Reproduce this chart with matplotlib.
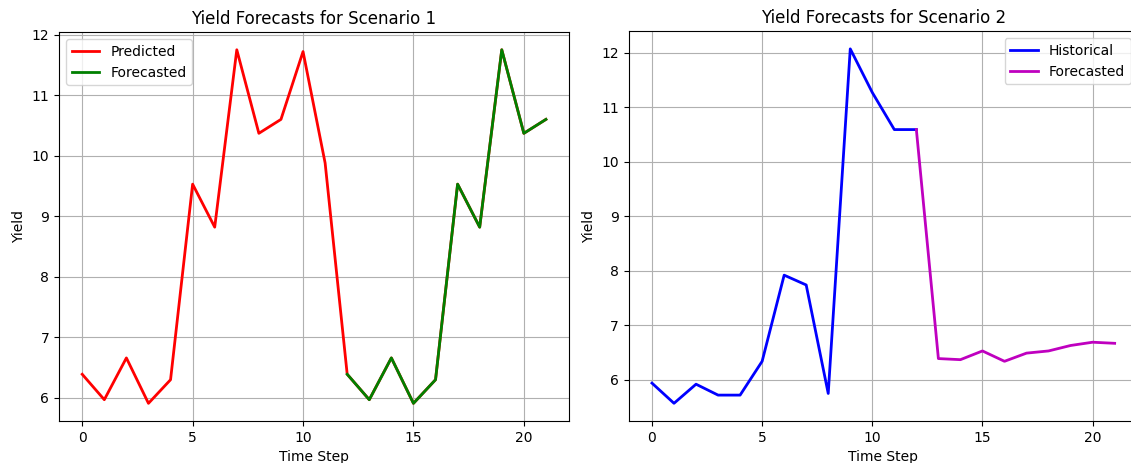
import matplotlib
matplotlib.use('Agg')
import matplotlib.pyplot as plt

# scenario 1
steps1 = list(range(22))
predicted1 = [6.39, 5.97, 6.66, 5.91, 6.30, 9.53, 8.82, 11.75, 10.37, 10.60, 11.72,
              9.88, 6.39, 5.97, 6.66, 5.91, 6.30, 9.53, 8.82, 11.75, 10.37, 10.60]
forecast_steps1 = list(range(12, 22))
forecast1 = [6.39, 5.97, 6.66, 5.91, 6.30, 9.53, 8.82, 11.75, 10.37, 10.60]

# scenario 2
hist_steps2 = list(range(13))
historical2 = [5.94, 5.57, 5.92, 5.72, 5.72, 6.34, 7.92, 7.74, 5.75, 12.07, 11.27, 10.59, 10.59]
forecast_steps2 = list(range(12, 22))
forecast2 = [10.59, 6.39, 6.37, 6.53, 6.34, 6.49, 6.53, 6.63, 6.69, 6.67]

fig = plt.figure(figsize=(11.31, 4.63), dpi=100)
# right panel runs a little past the picture edge, as in the reference
ax1 = fig.add_axes([0.0522, 0.0907, 0.451, 0.84])
ax2 = fig.add_axes([0.556, 0.0907, 0.450, 0.842])

ax1.plot(steps1, predicted1, color='r', lw=2, label='Predicted')
ax1.plot(forecast_steps1, forecast1, color='g', lw=2, label='Forecasted')
ax1.set_title('Yield Forecasts for Scenario 1')
ax1.set_xlabel('Time Step')
ax1.set_ylabel('Yield')
ax1.legend(loc='upper left')
ax1.grid(True)

ax2.plot(hist_steps2, historical2, color='b', lw=2, label='Historical')
ax2.plot(forecast_steps2, forecast2, color='m', lw=2, label='Forecasted')
ax2.set_title('Yield Forecasts for Scenario 2')
ax2.set_xlabel('Time Step')
ax2.set_ylabel('Yield')
ax2.legend(loc='upper right')
ax2.grid(True)

fig.savefig('out.png', dpi=100)
